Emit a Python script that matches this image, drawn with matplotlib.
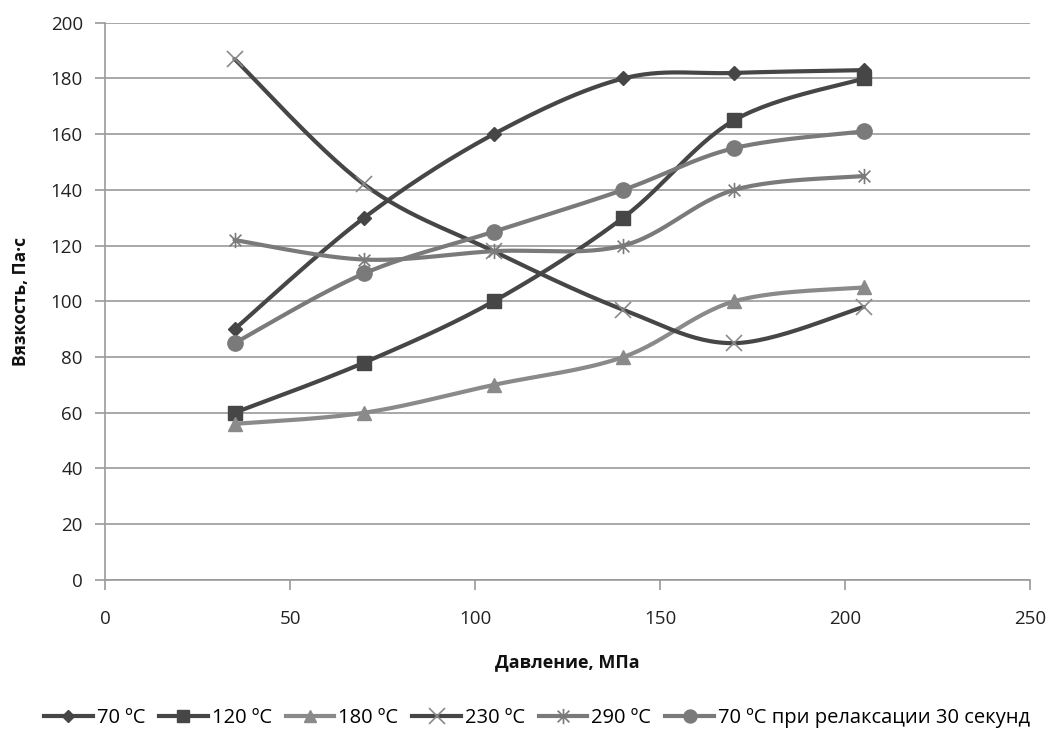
import numpy as np
import matplotlib
matplotlib.use("Agg")
import matplotlib.pyplot as plt
from matplotlib.lines import Line2D
from matplotlib.path import Path

plt.rcParams['font.family'] = ['Open Sans', 'DejaVu Sans']

pressure = [35, 70, 105, 140, 170, 205]
s70 = [90, 130, 160, 180, 182, 183]
s120 = [60, 78, 100, 130, 165, 180]
s180 = [56, 60, 70, 80, 100, 105]
s230 = [187, 142, 118, 97, 85, 98]
s290 = [122, 115, 118, 120, 140, 145]
s70r = [85, 110, 125, 140, 155, 161]
labels = ['70 ºC', '120 ºC', '180 ºC', '230 ºC', '290 ºC', '70 ºC при релаксации 30 секунд']

DARK = '#464646'
LIGHT = '#8a8a8a'
MID = '#7a7a7a'

star = Path([(-1, -1), (1, 1), (-1, 1), (1, -1), (0, -1.3), (0, 1.3)],
            [Path.MOVETO, Path.LINETO, Path.MOVETO, Path.LINETO, Path.MOVETO, Path.LINETO])

def smooth(x, y, n=30):
    x = np.asarray(x, float); y = np.asarray(y, float)
    px = np.concatenate([[x[0]], x, [x[-1]]])
    py = np.concatenate([[y[0]], y, [y[-1]]])
    xs, ys = [], []
    t = np.linspace(0, 1, n)
    for i in range(1, len(px) - 2):
        p0 = np.array([px[i], py[i]]); p3 = np.array([px[i+1], py[i+1]])
        p1 = p0 + (np.array([px[i+1], py[i+1]]) - np.array([px[i-1], py[i-1]])) / 6
        p2 = p3 - (np.array([px[i+2], py[i+2]]) - np.array([px[i], py[i]])) / 6
        b = ((1-t)**3)[:, None]*p0 + (3*(1-t)**2*t)[:, None]*p1 + (3*(1-t)*t**2)[:, None]*p2 + (t**3)[:, None]*p3
        xs.extend(b[:, 0]); ys.extend(b[:, 1])
    return np.array(xs), np.array(ys)

fig = plt.figure(figsize=(10.53, 7.35), dpi=100)
ax = fig.add_axes([0.0997, 0.211, 0.8787, 0.758])

series = [
    (s70, DARK, DARK, 'D', 7, False),
    (s120, DARK, DARK, 's', 10, False),
    (s180, LIGHT, LIGHT, '^', 10, False),
    (s230, DARK, LIGHT, 'x', 11, True),
    (s290, MID, MID, star, 11, True),
    (s70r, MID, MID, 'o', 11, False),
]
handles = []
for (vals, lc, mc, m, ms, hollow), lab in zip(series, labels):
    sx, sy = smooth(pressure, vals)
    ax.plot(sx, sy, color=lc, lw=3, solid_capstyle='round', zorder=3)
    if hollow:
        ax.plot(pressure, vals, ls='none', marker=m, ms=ms, mec=mc, mew=1.2, zorder=4)
        h = Line2D([], [], color=lc, lw=3, marker=m, ms=ms, mec=mc, mew=1.2)
    else:
        ax.plot(pressure, vals, ls='none', marker=m, ms=ms, mfc=mc, mec=mc, zorder=4)
        h = Line2D([], [], color=lc, lw=3, marker=m, ms=ms*0.85, mfc=mc, mec=mc)
    handles.append(h)

ax.set_xlim(0, 250)
ax.set_ylim(0, 200)
ax.set_xticks(np.arange(0, 251, 50))
ax.set_yticks(np.arange(0, 201, 20))
ax.yaxis.grid(True, color='#9a9a9a', lw=1.2)
ax.set_axisbelow(True)
for sp in ['top', 'right']:
    ax.spines[sp].set_visible(False)
for sp in ['left', 'bottom']:
    ax.spines[sp].set_color('#9a9a9a')
    ax.spines[sp].set_linewidth(1.2)
ax.tick_params(axis='both', direction='out', length=7, width=1.2, color='#9a9a9a', labelsize=13.5, labelcolor='#222222')
ax.tick_params(axis='x', pad=15)
ax.tick_params(axis='y', pad=9)
ax.set_xlabel('Давление, МПа', fontsize=13, fontweight='bold', labelpad=18, color='#111111')
ax.set_ylabel('Вязкость, Па·с', fontsize=12.5, fontweight='bold', labelpad=15, color='#111111')

fig.legend(handles=handles, labels=labels, loc='center', bbox_to_anchor=(0.51, 0.023), ncol=6, frameon=False,
           fontsize=14.5, handlelength=2.4, handletextpad=0.2, columnspacing=0.7)

fig.savefig('out.png', dpi=100)
